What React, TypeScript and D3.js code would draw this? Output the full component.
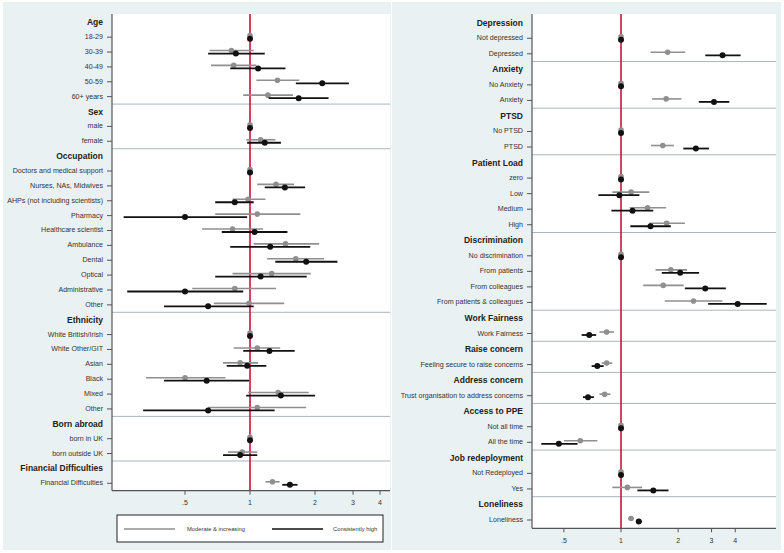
import React from 'react'
import * as d3 from 'd3'

// label, moderate & increasing (est, lo, hi), consistently high (est, lo, hi)
type Row = [string, number, number, number, number, number, number]

const age: Row[] = [
  ['18-29', 1, 1, 1, 1, 1, 1],
  ['30-39', 0.82, 0.65, 1.04, 0.86, 0.64, 1.17],
  ['40-49', 0.84, 0.66, 1.07, 1.09, 0.81, 1.46],
  ['50-59', 1.34, 1.07, 1.69, 2.16, 1.63, 2.87],
  ['60+ years', 1.21, 0.93, 1.58, 1.68, 1.22, 2.31],
]
const sex: Row[] = [
  ['male', 1, 1, 1, 1, 1, 1],
  ['female', 1.12, 0.96, 1.31, 1.17, 0.97, 1.39],
]
const occupation: Row[] = [
  ['Doctors and medical support', 1, 1, 1, 1, 1, 1],
  ['Nurses, NAs, Midwives', 1.32, 1.08, 1.6, 1.45, 1.17, 1.8],
  ['AHPs (not including scientists)', 0.98, 0.83, 1.18, 0.85, 0.69, 1.04],
  ['Pharmacy', 1.08, 0.69, 1.71, 0.5, 0.26, 0.97],
  ['Healthcare scientist', 0.83, 0.6, 1.15, 1.05, 0.74, 1.49],
  ['Ambulance', 1.46, 1.04, 2.09, 1.24, 0.81, 1.9],
  ['Dental', 1.63, 1.2, 2.2, 1.82, 1.31, 2.54],
  ['Optical', 1.26, 0.83, 1.91, 1.12, 0.69, 1.83],
  ['Administrative', 0.85, 0.54, 1.32, 0.5, 0.27, 0.93],
  ['Other', 0.99, 0.68, 1.44, 0.64, 0.4, 1.04],
]
const ethnicity: Row[] = [
  ['White British/Irish', 1, 1, 1, 1, 1, 1],
  ['White Other/GIT', 1.08, 0.84, 1.38, 1.23, 0.93, 1.61],
  ['Asian', 0.9, 0.75, 1.09, 0.97, 0.78, 1.19],
  ['Black', 0.5, 0.33, 0.77, 0.63, 0.4, 0.99],
  ['Mixed', 1.35, 0.98, 1.87, 1.39, 0.96, 2.0],
  ['Other', 1.08, 0.64, 1.82, 0.64, 0.32, 1.3],
]
const bornAbroad: Row[] = [
  ['born in UK', 1, 1, 1, 1, 1, 1],
  ['born outside UK', 0.92, 0.79, 1.08, 0.9, 0.75, 1.08],
]
const financial: Row[] = [
  ['Financial Difficulties', 1.27, 1.18, 1.37, 1.53, 1.41, 1.66],
]

const depression: Row[] = [
  ['Not depressed', 1, 1, 1, 1, 1, 1],
  ['Depressed', 1.76, 1.43, 2.18, 3.43, 2.78, 4.27],
]
const anxiety: Row[] = [
  ['No Anxiety', 1, 1, 1, 1, 1, 1],
  ['Anxiety', 1.73, 1.46, 2.08, 3.09, 2.57, 3.72],
]
const ptsd: Row[] = [
  ['No PTSD', 1, 1, 1, 1, 1, 1],
  ['PTSD', 1.66, 1.44, 1.9, 2.48, 2.13, 2.91],
]
const patientLoad: Row[] = [
  ['zero', 1, 1, 1, 1, 1, 1],
  ['Low', 1.13, 0.9, 1.41, 0.98, 0.76, 1.25],
  ['Medium', 1.38, 1.11, 1.73, 1.15, 0.89, 1.48],
  ['High', 1.74, 1.41, 2.17, 1.43, 1.12, 1.83],
]
const discrimination: Row[] = [
  ['No discrimination', 1, 1, 1, 1, 1, 1],
  ['From patients', 1.83, 1.52, 2.23, 2.05, 1.64, 2.58],
  ['From colleagues', 1.67, 1.31, 2.14, 2.78, 2.17, 3.57],
  ['From patients & colleagues', 2.41, 1.7, 3.42, 4.12, 2.88, 5.86],
]
const workFairness: Row[] = [
  ['Work Fairness', 0.84, 0.77, 0.92, 0.68, 0.62, 0.74],
]
const raiseConcern: Row[] = [
  ['Feeling secure to raise concerns', 0.84, 0.79, 0.9, 0.75, 0.7, 0.81],
]
const addressConcern: Row[] = [
  ['Trust organisation to address concerns', 0.82, 0.77, 0.88, 0.67, 0.63, 0.72],
]
const ppe: Row[] = [
  ['Not all time', 1, 1, 1, 1, 1, 1],
  ['All the time', 0.61, 0.5, 0.75, 0.47, 0.38, 0.59],
]
const redeployment: Row[] = [
  ['Not Redeployed', 1, 1, 1, 1, 1, 1],
  ['Yes', 1.08, 0.9, 1.29, 1.48, 1.22, 1.78],
]
const loneliness: Row[] = [
  ['Loneliness', 1.13, 1.09, 1.16, 1.24, 1.2, 1.29],
]

const leftGroups: [string, Row[]][] = [
  ['Age', age],
  ['Sex', sex],
  ['Occupation', occupation],
  ['Ethnicity', ethnicity],
  ['Born abroad', bornAbroad],
  ['Financial Difficulties', financial],
]
const rightGroups: [string, Row[]][] = [
  ['Depression', depression],
  ['Anxiety', anxiety],
  ['PTSD', ptsd],
  ['Patient Load', patientLoad],
  ['Discrimination', discrimination],
  ['Work Fairness', workFairness],
  ['Raise concern', raiseConcern],
  ['Address concern', addressConcern],
  ['Access to PPE', ppe],
  ['Job redeployment', redeployment],
  ['Loneliness', loneliness],
]

const tickValues = [0.5, 1, 2, 3, 4]
const tickLabels = ['.5', '1', '2', '3', '4']

const FONT = 'Arial, "Liberation Sans", sans-serif'
const GRAY = '#8f8f8f'
const BLACK = '#111'
const RED = '#c8143c'
const SEP = '#a9b6bb'

const Panel = ({ groups, xDomain, xRange, top, firstY, lastY, bottom }) => {
  const x = d3.scaleLog().domain(xDomain).range(xRange)
  const slots = []
  groups.forEach(([title, rows], gi) => {
    slots.push({ header: true, label: title, gi })
    rows.forEach(r => slots.push({ header: false, row: r, gi }))
  })
  const y = d3.scalePoint().domain(d3.range(slots.length)).range([firstY, lastY])
  const step = y.step()
  const [x0, x1] = xRange
  const seps = []
  slots.forEach((s, i) => {
    if (i > 0 && s.header) seps.push(y(i) - step / 2)
  })
  return (
    <g>
      <rect x={x0} y={top} width={x1 - x0} height={bottom - top} fill="#fff" />
      {seps.map((sy, i) => (
        <line key={i} x1={x0} x2={x1} y1={sy} y2={sy} stroke={SEP} strokeWidth={1} />
      ))}
      <line x1={x(1)} x2={x(1)} y1={top} y2={bottom} stroke={RED} strokeWidth={1.6} />
      <line x1={x0} x2={x0} y1={top} y2={bottom} stroke="#555" strokeWidth={1.2} />
      <line x1={x0} x2={x1} y1={bottom} y2={bottom} stroke="#555" strokeWidth={1.2} />
      {tickValues.map((t, i) => (
        <g key={t} transform={`translate(${x(t)},${bottom})`}>
          <line y1={0} y2={4} stroke="#555" strokeWidth={1} />
          <text y={12} textAnchor="middle" dominantBaseline="central" fontSize={7} fill="#333" fontFamily={FONT}>
            {tickLabels[i]}
          </text>
        </g>
      ))}
      {slots.map((s, i) =>
        s.header ? (
          <text key={i} x={x0 - 9} y={y(i)} textAnchor="end" dominantBaseline="central"
            fontSize={8.5} fontWeight="bold" fill="#222" fontFamily={FONT}>
            {s.label}
          </text>
        ) : (
          <g key={i}>
            <line x1={x0 - 5} x2={x0} y1={y(i)} y2={y(i)} stroke="#555" strokeWidth={1} />
            <text x={x0 - 9} y={y(i)} textAnchor="end" dominantBaseline="central"
              fontSize={7.1} fill="#333" fontFamily={FONT}>
              {s.row[0]}
            </text>
            <line x1={x(s.row[2])} x2={x(s.row[3])} y1={y(i) - 1.5} y2={y(i) - 1.5} stroke={GRAY} strokeWidth={1.6} />
            <circle cx={x(s.row[1])} cy={y(i) - 1.5} r={2.8} fill={GRAY} />
            <line x1={x(s.row[5])} x2={x(s.row[6])} y1={y(i) + 1.5} y2={y(i) + 1.5} stroke={BLACK} strokeWidth={1.8} />
            <circle cx={x(s.row[4])} cy={y(i) + 1.5} r={3} fill={BLACK} />
          </g>
        )
      )}
    </g>
  )
}

const App = () => (
  <svg width={784} height={553} style={{ position: 'absolute', left: 0, top: 0 }}>
    <rect width={784} height={553} fill="#fff" />
    <rect x={3} y={2} width={388} height={548} fill="#eaf1f3" />
    <rect x={392} y={2} width={389} height={548} fill="#eaf1f3" />
    <Panel groups={leftGroups} xDomain={[0.2296, 4.448]} xRange={[112, 390]}
      top={14} firstY={22.3} lastY={483.3} bottom={490.7} />
    <Panel groups={rightGroups} xDomain={[0.3395, 6.56]} xRange={[532, 776]}
      top={14} firstY={22.7} lastY={520} bottom={528.3} />
    <g fontFamily={FONT} fontSize={5.8} fill="#333">
      <rect x={117} y={515} width={266} height={27} fill="#fff" stroke="#222" strokeWidth={1} />
      <line x1={124} x2={175} y1={529} y2={529} stroke={GRAY} strokeWidth={1.4} />
      <text x={187} y={529} dominantBaseline="central">Moderate &amp; increasing</text>
      <line x1={272} x2={323} y1={529} y2={529} stroke={BLACK} strokeWidth={1.6} />
      <text x={333} y={529} dominantBaseline="central">Consistently high</text>
    </g>
  </svg>
)

export default App
